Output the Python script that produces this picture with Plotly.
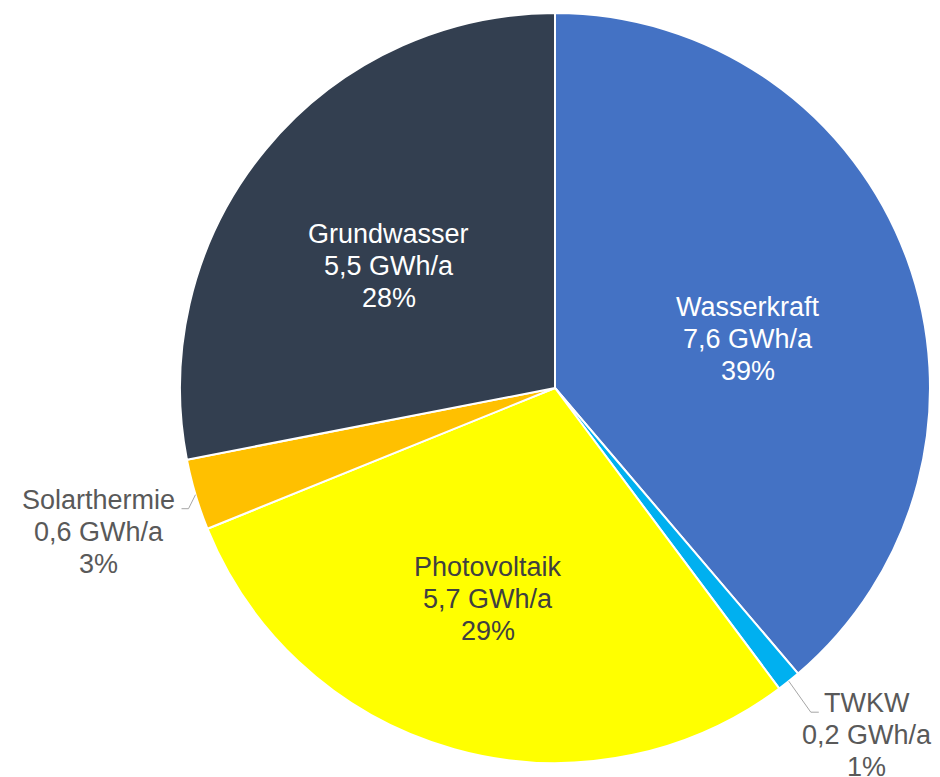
import math
import plotly.graph_objects as go

# ---- data ----
labels = ["Wasserkraft", "TWKW", "Photovoltaik", "Solarthermie", "Grundwasser"]
values = [7.6, 0.2, 5.7, 0.6, 5.5]
unit = "GWh/a"
colors = ["#4472C4", "#00B0F0", "#FFFF00", "#FFC000", "#333F50"]
text_colors = ["#FFFFFF", "#595959", "#404040", "#595959", "#FFFFFF"]
inside = [True, False, True, False, True]
# inside label placement: radial fraction and angular shift (deg)
inside_factor = [0.53, 0, 0.59, 0, 0.55]
inside_shift = [6.0, 0, 2.0, 0, -3.2]
# outside label leader: elbow offset from slice edge, horizontal run, text centre offset
elbow_dx = [0, 22, 0, -7, 0]
elbow_dy = [0, 31, 0, 14, 0]
run = [0, 8, 0, -7, 0]
text_dx = [0, 48, 0, -83, 0]

# ---- layout geometry (pixels) ----
W, H = 940, 777
CX, CY, R = 555, 388, 375
FONT = "Liberation Sans, Arial, sans-serif"
FS = 27
LINE = 32

fig = go.Figure()
fig.add_trace(go.Pie(
    labels=labels, values=values, sort=False, direction="clockwise", rotation=0,
    marker=dict(colors=colors, line=dict(color="white", width=2)),
    textinfo="none", hoverinfo="label+value+percent", showlegend=False,
    domain=dict(x=[(CX - R) / W, (CX + R) / W], y=[(H - CY - R) / H, (H - CY + R) / H]),
))

total = sum(values)
annotations = []
shapes = []


def add_block(lines, xc, yc_first, color):
    for i, t in enumerate(lines):
        annotations.append(dict(x=xc, y=yc_first + i * LINE, text=t, showarrow=False,
                                xref="x", yref="y", xanchor="center", yanchor="middle",
                                font=dict(family=FONT, size=FS, color=color)))


cum = 0.0
for k, (lab, v) in enumerate(zip(labels, values)):
    mid_deg = (cum + v / 2) / total * 360
    cum += v
    pct = round(v / total * 100)
    lines = [lab, f"{str(v).replace('.', ',')} {unit}", f"{pct}%"]
    if inside[k]:
        a = math.radians(mid_deg + inside_shift[k])
        xc = CX + inside_factor[k] * R * math.sin(a)
        yc = CY - inside_factor[k] * R * math.cos(a)
        add_block(lines, xc, yc - LINE, text_colors[k])
    else:
        a = math.radians(mid_deg)
        x0, y0 = CX + R * math.sin(a), CY - R * math.cos(a)
        x1, y1 = x0 + elbow_dx[k], y0 + elbow_dy[k]
        x2 = x1 + run[k]
        shapes.append(dict(type="path", xref="x", yref="y",
                           path=f"M{x0},{y0} L{x1},{y1} L{x2},{y1}",
                           line=dict(color="#A6A6A6", width=1)))
        add_block(lines, x2 + text_dx[k], y1 - 9, text_colors[k])

fig.update_layout(
    width=W, height=H, margin=dict(l=0, r=0, t=0, b=0),
    paper_bgcolor="white", plot_bgcolor="rgba(0,0,0,0)",
    xaxis=dict(range=[0, W], visible=False, fixedrange=True),
    yaxis=dict(range=[H, 0], visible=False, fixedrange=True),
    annotations=annotations, shapes=shapes,
)
fig.write_html("out.html")
